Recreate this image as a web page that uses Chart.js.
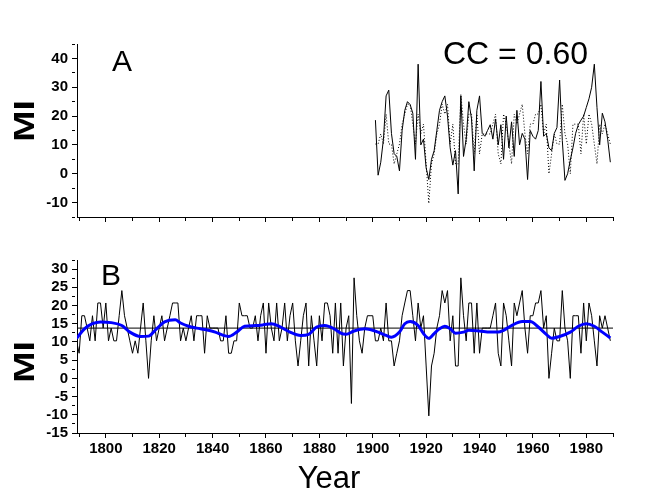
<!DOCTYPE html>
<html>
<head>
<meta charset="utf-8">
<title>MI series</title>
<script src="https://cdn.jsdelivr.net/npm/chart.js@4.4.1/dist/chart.umd.min.js"></script>
<style>
    html, body { margin: 0; padding: 0; background: #fff; }
    #wrap { position: relative; width: 645px; height: 502px; }
    #topChart { position: absolute; left: 0; top: 0; }
    #bottomChart { position: absolute; left: 0; top: 230px; }
</style>
</head>
<body>
<div id="wrap">
    <canvas id="topChart" width="645" height="230"></canvas>
    <canvas id="bottomChart" width="645" height="272"></canvas>
</div>
<script>
// MI index, one value per year, 1789 - 1989
const miFirstYear = 1789;
const miValues = [
    10.3,
    6.9, 17.2, 17.2, 13.8, 10.3, 17.2, 10.3, 20.7, 20.7, 13.8,   // 1790s
    20.7, 10.3, 13.8, 10.3, 10.3, 17.2, 24.1, 17.2, 13.8, 10.3,  // 1800s
    6.9, 10.3, 6.9, 13.8, 20.7, 10.3, 0, 10.3, 17.2, 10.3,       // 1810s
    13.8, 17.2, 10.3, 13.8, 17.2, 20.7, 20.7, 20.7, 10.3, 13.8,  // 1820s
    10.3, 13.8, 17.2, 10.3, 17.2, 17.2, 17.2, 6.9, 17.2, 13.8,   // 1830s
    13.8, 13.8, 13.8, 10.3, 10.3, 17.2, 6.9, 6.9, 10.3, 10.3,    // 1840s
    20.7, 17.2, 17.2, 17.2, 13.8, 13.8, 17.2, 10.3, 17.2, 20.7,  // 1850s
    6.9, 20.7, 13.8, 10.3, 20.7, 10.3, 13.8, 20.7, 10.3, 17.2,   // 1860s
    20.7, 10.3, 3.4, 10.3, 17.2, 20.7, 3.4, 17.2, 10.3, 3.4,     // 1870s
    17.2, 10.3, 20.7, 20.7, 17.2, 6.9, 20.7, 6.9, 20.7, 3.4,     // 1880s
    13.8, 17.2, -6.9, 27.6, 17.2, 10.3, 6.9, 13.8, 17.2, 17.2,   // 1890s
    17.2, 10.3, 10.3, 13.8, 10.3, 20.7, 10.3, 10.3, 3.4, 6.9,    // 1900s
    10.3, 17.2, 20.7, 24.1, 24.1, 17.2, 10.3, 20.7, 13.8, 17.2,  // 1910s
    3.4, -10.3, 3.4, 6.9, 13.8, 17.2, 24.1, 20.7, 24.1, 10.3,    // 1920s
    17.2, 3.4, 3.4, 27.6, 17.2, 10.3, 20.7, 20.7, 6.9, 20.7,     // 1930s
    6.9, 13.8, 13.8, 13.8, 13.8, 17.2, 20.7, 6.9, 3.4, 20.7,     // 1940s
    17.2, 10.3, 3.4, 20.7, 17.2, 20.7, 24.1, 13.8, 6.9, 17.2,    // 1950s
    17.2, 20.7, 20.7, 24.1, 13.8, 17.2, 0, 6.9, 13.8, 10.3,      // 1960s
    10.3, 24.1, 13.8, 10.3, 0, 17.2, 17.2, 17.2, 6.9, 20.7,      // 1970s
    10.3, 20.7, 17.2, 10.3, 3.4, 17.2, 13.8, 17.2, 13.8, 10.3    // 1980s
];
const miMean = 13.8;

// instrumental series compared in panel A, 1901 - 1989
const compFirstYear = 1901;
const compValues = [
    18.6, -0.5, 4, 12, 27, 29, 14, 7, 6,
    1, 15, 22, 25, 24, 21, 5, 38, 10, 12,
    2, -2, 5, 8, 15, 22, 25, 27, 20, 9,
    3, 8, -7, 27, 6, 12, 25, 19, 1, 22,
    27, 14, 13, 15, 17, 12, 19, 10, 17, 5,
    20, 9, 18, 6, 22, 10, 14, 12, -2, 15,
    13, 12, 15, 32, 13, 14, 9, 8, 14, 16,
    32.5, 11.6, -2.3, 0, 4.7, 9, 14, 17, 18.6, 20,
    23, 26, 30, 38, 23, 10, 21, 18, 12, 4
];

// low-pass curve drawn in blue in panel B
const smoothYears = [1789, 1792, 1795, 1798, 1802, 1806, 1809, 1813, 1816, 1819, 1822, 1826, 1828,
    1831, 1834, 1838, 1841, 1844, 1846, 1849, 1852, 1856, 1859, 1862, 1865, 1869, 1873, 1876,
    1879, 1882, 1886, 1888, 1890, 1893, 1897, 1899, 1902, 1905, 1907, 1910, 1912, 1914, 1917,
    1919, 1921, 1923, 1925, 1927, 1929, 1931, 1934, 1936, 1940, 1944, 1947, 1949, 1952, 1956,
    1959, 1962, 1965, 1967, 1970, 1974, 1977, 1980, 1983, 1986, 1989];
const smoothValues = [10.9, 13.6, 15.0, 15.5, 15.3, 14.5, 12.7, 11.5, 11.6, 13.6, 15.5, 16.1, 15.2,
    14.3, 13.8, 13.3, 12.7, 11.8, 11.5, 12.7, 14.3, 14.5, 14.7, 15.0, 14.3, 12.7, 11.8, 12.1,
    14.1, 14.5, 13.4, 12.4, 12.1, 13.0, 13.6, 13.4, 12.7, 11.8, 11.3, 12.7, 15.0, 15.6, 14.5,
    12.3, 11.0, 12.3, 13.6, 14.3, 13.6, 12.4, 12.7, 13.2, 13.0, 12.7, 12.7, 13.2, 14.5, 15.6,
    15.6, 14.1, 12.1, 11.0, 11.5, 12.7, 14.3, 15.0, 14.3, 12.7, 11.1];

// axis ticks
const yearMin = 1789.2;
const yearMax = 1990;
const yearStep = 10;
const yearLabelStep = 20;

const FONT = "'Liberation Sans', Arial, sans-serif";

// build {x, y} points from the arrays
const miYears = miValues.map((v, i) => miFirstYear + i);
const compYears = compValues.map((v, i) => compFirstYear + i);
const miPoints = miValues.map((v, i) => ({ x: miYears[i], y: v }));
const compPoints = compValues.map((v, i) => ({ x: compYears[i], y: v }));
const miOverlap = miPoints.filter(p => p.x >= compFirstYear);
const smoothPoints = smoothValues.map((v, i) => ({ x: smoothYears[i], y: v }));
const meanPoints = [{ x: miYears[0], y: miMean }, { x: yearMax, y: miMean }];

// text drawn on the canvas: panel letters, CC value, axis titles
const panelText = {
    id: "panelText",
    afterDraw(chart, args, opts) {
        const ctx = chart.ctx;
        (opts.items || []).forEach(t => {
            ctx.save();
            ctx.fillStyle = "#000";
            ctx.font = t.font;
            ctx.textAlign = t.align || "left";
            ctx.textBaseline = t.baseline || "alphabetic";
            ctx.translate(t.x, t.y);
            if (t.rotate) ctx.rotate(t.rotate);
            if (t.stretch) ctx.scale(t.stretch, 1);
            ctx.fillText(t.text, 0, 0);
            ctx.restore();
        });
    }
};

// major ticks full length, minor ticks cut short with a dash
function tickGrid(majorStep) {
    return {
        drawOnChartArea: false,
        tickLength: 5,
        color: "#000",
        tickBorderDash: c => (c.tick && c.tick.value % majorStep === 0) ? [] : [3, 20]
    };
}

function xScale(showLabels, height) {
    return {
        type: "linear",
        min: yearMin,
        max: yearMax,
        afterFit: s => { s.height = height; },
        ticks: {
            stepSize: yearStep,
            includeBounds: false,
            autoSkip: false,
            maxRotation: 0,
            padding: 2,
            color: "#000",
            font: { family: FONT, size: 15, weight: "bold" },
            callback: v => (showLabels && v % yearLabelStep === 0) ? String(v) : ""
        },
        grid: tickGrid(yearLabelStep),
        border: { color: "#000", width: 1 }
    };
}

function yScale(min, max, step, labelStep) {
    return {
        min: min,
        max: max,
        afterFit: s => { s.width = 77; },
        ticks: {
            stepSize: step,
            includeBounds: false,
            autoSkip: false,
            padding: 4,
            color: "#000",
            font: { family: FONT, size: 15, weight: "bold" },
            callback: v => v % labelStep === 0 ? String(v) : ""
        },
        grid: tickGrid(labelStep),
        border: { color: "#000", width: 1 }
    };
}

const common = {
    responsive: false,
    animation: false,
    events: [],
    elements: { point: { radius: 0 }, line: { tension: 0 } }
};

const miTitle = (y) => ({
    text: "MI", x: 26, y: y, font: "bold 30px " + FONT,
    align: "center", baseline: "middle", rotate: -Math.PI / 2, stretch: 1.25
});

// Panel A
new Chart(document.getElementById("topChart"), {
    type: "line",
    data: {
        datasets: [
            { data: compPoints, borderColor: "#000", borderWidth: 1 },
            { data: miOverlap, borderColor: "#000", borderWidth: 1, borderDash: [1, 2] }
        ]
    },
    options: {
        ...common,
        layout: { padding: { left: 0, right: 32, top: 44, bottom: 0 } },
        scales: {
            x: xScale(false, 13),
            y: yScale(-15, 45, 5, 10)
        },
        plugins: {
            legend: { display: false },
            tooltip: { enabled: false },
            panelText: {
                items: [
                    miTitle(121),
                    { text: "A", x: 112, y: 71, font: "30px " + FONT },
                    { text: "CC = 0.60", x: 443, y: 64, font: "32px " + FONT }
                ]
            }
        }
    },
    plugins: [panelText]
});

// Panel B
new Chart(document.getElementById("bottomChart"), {
    type: "line",
    data: {
        datasets: [
            { data: smoothPoints, borderColor: "rgb(0,0,255)", borderWidth: 3, cubicInterpolationMode: "monotone" },
            { data: meanPoints, borderColor: "#000", borderWidth: 1 },
            { data: miPoints, borderColor: "#000", borderWidth: 1 }
        ]
    },
    options: {
        ...common,
        layout: { padding: { left: 0, right: 32, top: 30, bottom: 0 } },
        scales: {
            x: xScale(true, 69),
            y: yScale(-15, 32.5, 2.5, 5)
        },
        plugins: {
            legend: { display: false },
            tooltip: { enabled: false },
            panelText: {
                items: [
                    miTitle(132),
                    { text: "B", x: 101, y: 55, font: "30px " + FONT },
                    { text: "Year", x: 329, y: 258, font: "31px " + FONT, align: "center" }
                ]
            }
        }
    },
    plugins: [panelText]
});
</script>
</body>
</html>
